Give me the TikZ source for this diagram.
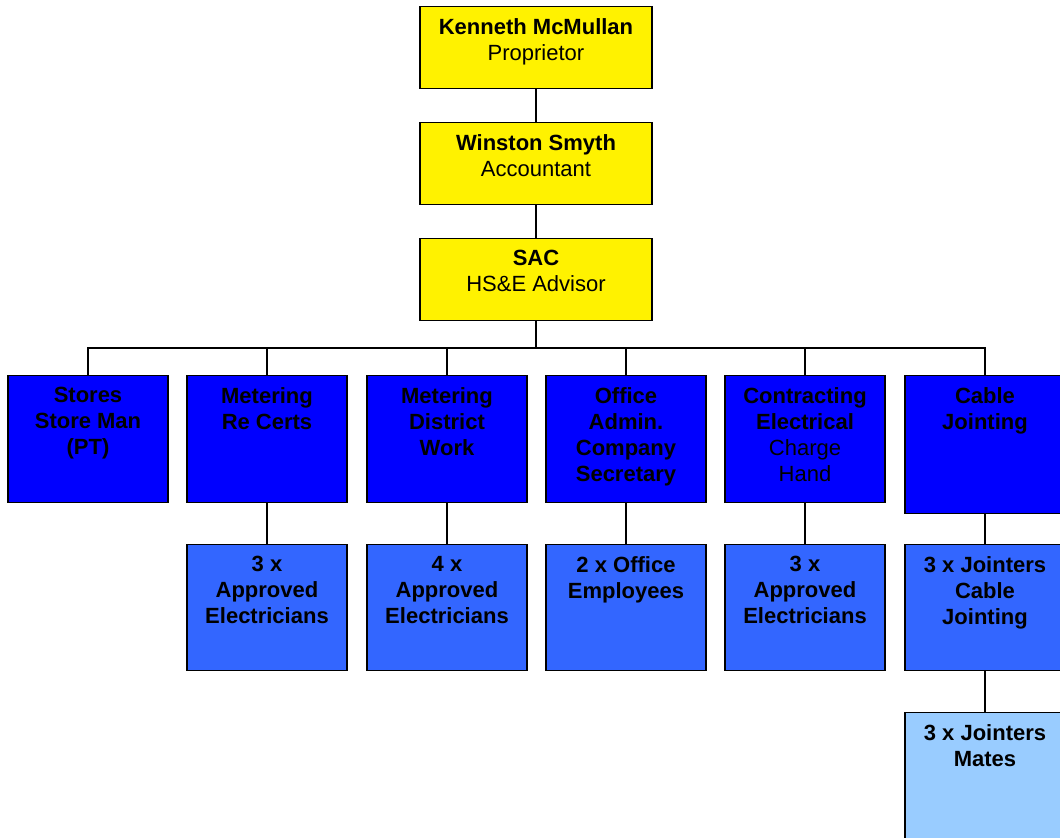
\documentclass[tikz,border=0pt]{standalone}
\usepackage{fontspec}
\setmainfont{Liberation Sans}
\definecolor{deptblue}{HTML}{0000FF}
\definecolor{teamblue}{HTML}{3366FF}
\definecolor{matesblue}{HTML}{99CCFF}
\begin{document}
\begin{tikzpicture}[x=0.75pt,y=-0.75pt,
  unit/.style={draw=black, line width=1pt, anchor=north, inner sep=0pt,
    minimum width=120pt, minimum height=95.25pt},
  boss/.style={unit, fill=yellow, minimum width=174pt, minimum height=61.5pt},
  dept/.style={unit, fill=deptblue},
  team/.style={unit, fill=teamblue, minimum height=94.5pt},
  mates/.style={unit, fill=matesblue, minimum height=105pt},
  caption/.style={anchor=north, align=center, inner sep=0pt, yshift=-9pt,
    font=\fontsize{16.5pt}{19.5pt}\selectfont\bfseries},
  link/.style={draw=black, line width=1.3pt}]

% Canvas 1060 x 838 px, y grows downward
\clip (0,0) rectangle (1060,838);

% --- Management chain ---
\node[boss] (kenneth) at (536,6) {};
\node[caption] (kennethtext) at (kenneth.north) {Kenneth McMullan\\\textmd{Proprietor}};
\node[boss] (winston) at (536,122) {};
\node[caption] (winstontext) at (winston.north) {Winston Smyth\\\textmd{Accountant}};
\node[boss] (sac) at (536,238) {};
\node[caption] (sactext) at (sac.north) {SAC\\\textmd{HS\&E Advisor}};

% --- Departments ---
\node[dept] (stores) at (88,375) {};
\node[caption] (storestext) at (stores.north) {Stores\\Store Man\\(PT)};
\node[dept] (recerts) at (267,375) {};
\node[caption] (recertstext) at (recerts.north) {Metering\\Re Certs};
\node[dept] (district) at (447,375) {};
\node[caption] (districttext) at (district.north) {Metering\\District\\Work};
\node[dept] (office) at (626,375) {};
\node[caption] (officetext) at (office.north) {Office\\Admin.\\Company\\Secretary};
\node[dept] (contract) at (805,375) {};
\node[caption] (contracttext) at (contract.north) {Contracting\\Electrical\\\textmd{Charge}\\\textmd{Hand}};
\node[dept, minimum height=103.5pt] (cable) at (985,375) {};
\node[caption] (cabletext) at (cable.north) {Cable\\Jointing};

% --- Teams ---
\node[team] (recertsteam) at (267,544) {};
\node[caption] (recertsteamtext) at (recertsteam.north) {3 x\\Approved\\Electricians};
\node[team] (districtteam) at (447,544) {};
\node[caption] (districtteamtext) at (districtteam.north) {4 x\\Approved\\Electricians};
\node[team] (officeteam) at (626,544) {};
\node[caption] (officeteamtext) at (officeteam.north) {2 x Office\\Employees};
\node[team] (contractteam) at (805,544) {};
\node[caption] (contractteamtext) at (contractteam.north) {3 x\\Approved\\Electricians};
\node[team] (cableteam) at (985,544) {};
\node[caption] (cableteamtext) at (cableteam.north) {3 x Jointers\\Cable\\Jointing};
\node[mates] (mates) at (985,712) {};
\node[caption] (matestext) at (mates.north) {3 x Jointers\\Mates};

% --- Connectors ---
\coordinate (bus) at (536,348);
\draw[link] (kenneth) -- (winston);
\draw[link] (winston) -- (sac);
\draw[link, line width=2.2pt] (sac.south) -- (bus);
\draw[link] (stores.north) |- (bus) -| (cable.north);
\foreach \d in {recerts,district,office,contract}
  \draw[link] (\d.north) -- (\d.north |- bus);
\foreach \d in {recerts,district,office,contract,cable}
  \draw[link] (\d.south) -- (\d team.north);
\draw[link] (cableteam) -- (mates);

\end{tikzpicture}
\end{document}
